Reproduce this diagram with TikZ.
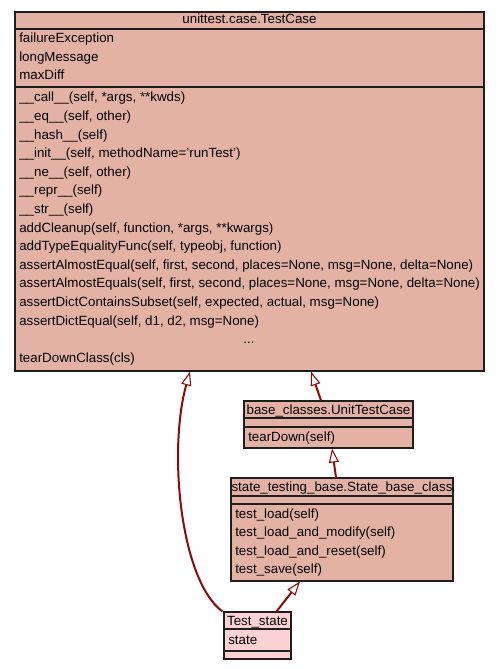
\documentclass[tikz,border=0pt]{standalone}
\usepackage{fontspec}
\setmainfont{Liberation Sans}
\usetikzlibrary{arrows.meta,fit,calc}
\definecolor{clsfill}{RGB}{227,178,164}
\definecolor{curfill}{RGB}{253,210,210}
\definecolor{edgecol}{RGB}{139,10,10}
\definecolor{bordercol}{RGB}{30,30,30}
\tikzset{
  cls/.style={draw=bordercol, line width=0.8pt, fill=clsfill, inner sep=0pt},
  cur/.style={draw=bordercol, line width=0.8pt, fill=curfill, inner sep=0pt},
  sep/.style={draw=bordercol, line width=0.8pt},
  mem/.style={anchor=mid west, inner sep=0pt, yshift=-0.75pt, font=\fontsize{10pt}{12pt}\selectfont},
  ttl/.style={anchor=mid, inner sep=0pt, yshift=-0.75pt, font=\fontsize{10pt}{12pt}\selectfont},
  inh/.style={draw=edgecol, line width=1.5pt,
    -{Triangle[length=10.5pt,width=7.5pt,fill=white,line width=0.8pt]}},
}
\begin{document}
\begin{tikzpicture}[x=0.75pt,y=-0.75pt]
\useasboundingbox (0,0) rectangle (499,669);
\fill[white] (0,0) rectangle (499,669);
% unittest.case.TestCase
\node[cls, fit={(15,12) (484,371)}] (big) {};
\draw[sep] (15,29) -- (484,29);
\draw[sep] (15,87) -- (484,87);
\node[ttl] (bigt) at (249.5,19) {unittest.case.TestCase};
\node[mem] (a1) at (19,38.3) {failureException};
\node[mem] (a2) at (19,56.8) {longMessage};
\node[mem] (a3) at (19,75.3) {maxDiff};
\node[mem] (m1) at (19,97.4) {\_\_call\_\_(self, *args, **kwds)};
\node[mem] (m2) at (19,116) {\_\_eq\_\_(self, other)};
\node[mem] (m3) at (19,134.6) {\_\_hash\_\_(self)};
\node[mem] (m4) at (19,153.2) {\_\_init\_\_(self, methodName='runTest')};
\node[mem] (m5) at (19,171.8) {\_\_ne\_\_(self, other)};
\node[mem] (m6) at (19,190.4) {\_\_repr\_\_(self)};
\node[mem] (m7) at (19,209) {\_\_str\_\_(self)};
\node[mem] (m8) at (19,227.6) {addCleanup(self, function, *args, **kwargs)};
\node[mem] (m9) at (19,246.2) {addTypeEqualityFunc(self, typeobj, function)};
\node[mem] (m10) at (19,264.8) {assertAlmostEqual(self, first, second, places=None, msg=None, delta=None)};
\node[mem] (m11) at (19,283.4) {assertAlmostEquals(self, first, second, places=None, msg=None, delta=None)};
\node[mem] (m12) at (19,302) {assertDictContainsSubset(self, expected, actual, msg=None)};
\node[mem] (m13) at (19,320.6) {assertDictEqual(self, d1, d2, msg=None)};
\node[anchor=base, inner sep=0pt, font=\fontsize{10pt}{12pt}\selectfont] (dots) at (249,343.5) {...};
\node[mem] (m14) at (19,357.8) {tearDownClass(cls)};
% base_classes.UnitTestCase
\node[cls, fit={(244,401) (413,448)}] (utc) {};
\draw[sep] (244,418) -- (413,418);
\draw[sep] (244,427) -- (413,427);
\node[ttl] (utct) at (328.5,409.5) {base\_classes.UnitTestCase};
\node[mem] (u1) at (248,437) {tearDown(self)};
% state_testing_base.State_base_class
\node[cls, fit={(231,478) (453,581)}] (sbc) {};
\draw[sep] (231,496) -- (453,496);
\draw[sep] (231,504) -- (453,504);
\node[ttl] (sbct) at (342,487) {state\_testing\_base.State\_base\_class};
\node[mem] (s1) at (235,513.5) {test\_load(self)};
\node[mem] (s2) at (235,532) {test\_load\_and\_modify(self)};
\node[mem] (s3) at (235,550.5) {test\_load\_and\_reset(self)};
\node[mem] (s4) at (235,569) {test\_save(self)};
% Test_state
\node[cur, fit={(224,612) (291,659)}] (ts) {};
\draw[sep] (224,629) -- (291,629);
\draw[sep] (224,651) -- (291,651);
\node[ttl] (tst) at (257.5,620.5) {Test\_state};
\node[mem] (t1) at (228,640) {state};
% inheritance edges
\draw[inh] ($(utc.north)+(-7.5,0)$) -- ($(big.south)+(61.5,0)$);
\draw[inh] ($(sbc.north)+(-6,0)$) -- ($(utc.south)+(3.5,0)$);
\draw[inh] ($(ts.north)+(19,0)$) -- ($(sbc.south)+(-42,0)$);
\draw[inh] ($(ts.north west)+(-1,0)$) .. controls (180,580) and (168,450) .. ($(big.south)+(-59.5,0)$);
\end{tikzpicture}
\end{document}
